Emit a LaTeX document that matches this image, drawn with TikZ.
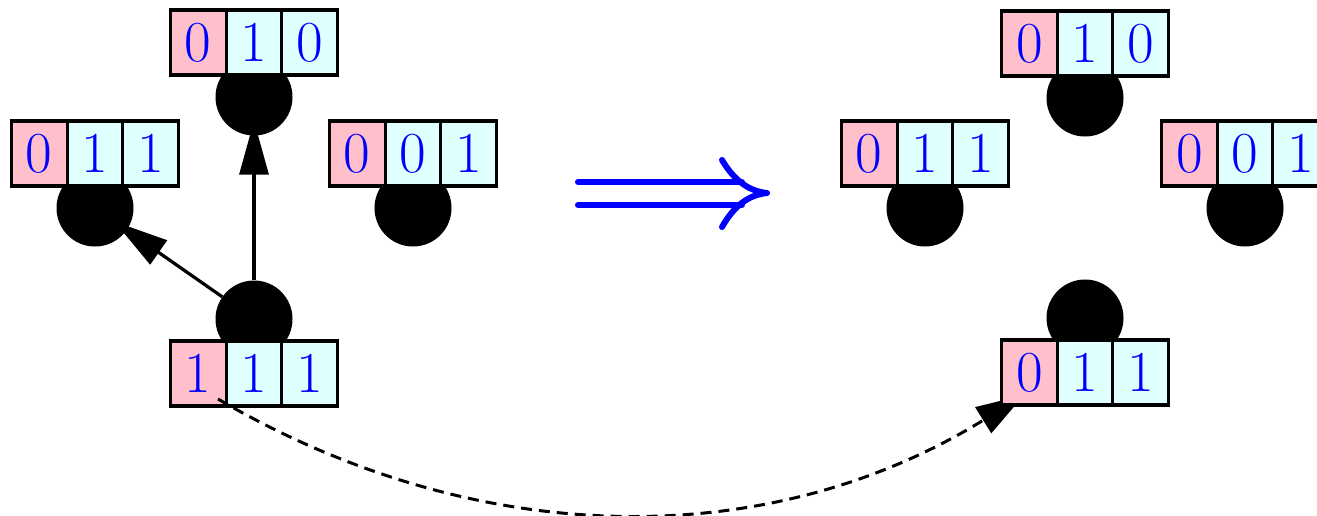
\documentclass[tikz,border=0pt]{standalone}
\usetikzlibrary{arrows.meta}
\definecolor{tagpink}{RGB}{255,192,203}
\definecolor{tagcyan}{RGB}{224,255,255}
% three-cell bit label: name, centre x, centre y, digits
\newcommand\tritag[6]{%
  \node[hicell] (#1a) at (#2-55.7,#3) {#4};
  \node[locell] (#1b) at (#2,#3) {#5};
  \node[locell] (#1c) at (#2+55.7,#3) {#6};}
\begin{document}
\begin{tikzpicture}[x=1pt,y=-1pt,
  vert/.style={circle,minimum size=77pt,inner sep=0pt},
  dot/.style={vert,fill=black},
  cell/.style={draw=black,line width=3.2pt,minimum width=55.7pt,minimum height=65pt,
    inner sep=0pt,text=blue,font=\fontsize{58}{60}\selectfont},
  hicell/.style={cell,fill=tagpink},
  locell/.style={cell,fill=tagcyan},
  move/.style={line width=3.2pt,shorten >=-15pt,-{Triangle[length=54pt,width=29pt]}},
  jump/.style={line width=3pt,dash pattern=on 11pt off 7pt,-{Triangle[length=48pt,width=30pt]}},
  implies/.style={draw=blue,line width=6pt,line cap=round,line join=round}]
\useasboundingbox (0,0) rectangle (1317,515);

% vertices before the move: edges first, tips tucked under the dots
\node[vert] (l1) at (254,97) {};
\node[vert] (l2) at (95,208) {};
\node[vert] (l0) at (254,319) {};
\draw[move] (l0) -- (l1);
\draw[move] (l0) -- (l2);
\node[dot] at (l1) {};
\node[dot] at (l2) {};
\node[dot] at (l0) {};
\node[dot] (l3) at (413,208) {};
\tritag{la}{254}{42.5}{0}{1}{0}
\tritag{lb}{95}{153.5}{0}{1}{1}
\tritag{lc}{413}{153.5}{0}{0}{1}
\tritag{ld}{254}{373.5}{1}{1}{1}

% the flipped bit travels to its new place
\coordinate (js) at (218,399);
\coordinate (je) at (1024,395);
\draw[jump] (js) .. controls (480,552) and (770,552) .. (je);

% vertices after the move
\node[dot] (r1) at (1085,98) {};
\node[dot] (r2) at (925,208) {};
\node[dot] (r3) at (1245,208) {};
\node[dot] (r0) at (1085,318) {};
\tritag{ra}{1085}{43.5}{0}{1}{0}
\tritag{rb}{925}{153.5}{0}{1}{1}
\tritag{rc}{1245}{153.5}{0}{0}{1}
\tritag{rd}{1085}{372.5}{0}{1}{1}

% implication sign
\draw[implies] (578,182) -- (742,182);
\draw[implies] (578,205) -- (742,205);
\draw[implies] (722,160) .. controls (734,180) and (748,191) .. (767,193)
  .. controls (748,195) and (734,206) .. (722,227);
\end{tikzpicture}
\end{document}
